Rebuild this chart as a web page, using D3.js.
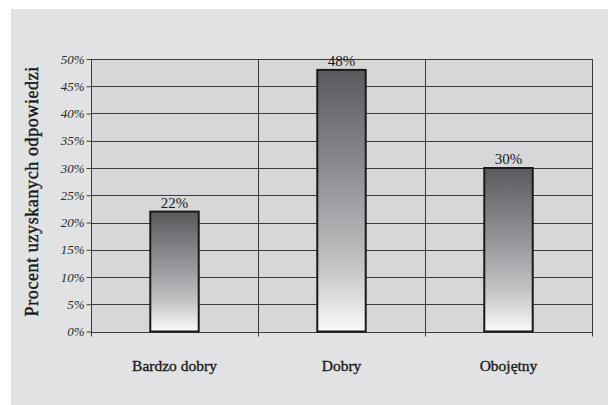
<!DOCTYPE html>
<html>
<head>
<meta charset="utf-8">
<script src="https://cdn.jsdelivr.net/npm/d3@7"></script>
<style>
  html, body { margin: 0; padding: 0; background: #ffffff; }
  svg { display: block; }
</style>
</head>
<body>
<svg id="chart" width="608" height="405"></svg>
<script>
// Survey answers: share of responses per rating
const categories = ["Bardzo dobry", "Dobry", "Obojętny"];
const values = [22, 48, 30];
const valueLabels = ["22%", "48%", "30%"];
const yTicks = [0, 5, 10, 15, 20, 25, 30, 35, 40, 45, 50];
const yTitle = "Procent uzyskanych odpowiedzi";

const svg = d3.select("#chart");
const W = 608, H = 405;
const plot = { left: 91, right: 592, top: 59, bottom: 331.5 };
const serif = "'Liberation Serif', 'DejaVu Serif', serif";

// outer panel
svg.append("rect")
  .attr("x", 11).attr("y", 9)
  .attr("width", W - 11).attr("height", H - 9)
  .attr("fill", "#e1e2e4");

// plot background
svg.append("rect")
  .attr("x", plot.left).attr("y", plot.top)
  .attr("width", plot.right - plot.left).attr("height", plot.bottom - plot.top)
  .attr("fill", "#d6d7d9");

const x = d3.scaleBand().domain(categories).range([plot.left, plot.right]).padding(0);
const y = d3.scaleLinear().domain([0, 50]).range([plot.bottom, plot.top]);

const gridColor = "#3a3a3a";

// horizontal grid lines
svg.append("g").selectAll("line").data(yTicks).join("line")
  .attr("x1", plot.left).attr("x2", plot.right)
  .attr("y1", d => Math.round(y(d)) + 0.5).attr("y2", d => Math.round(y(d)) + 0.5)
  .attr("stroke", gridColor).attr("stroke-width", 1);

// vertical category separators (extend below axis as ticks)
const seps = categories.slice(1).map(c => x(c)).concat([plot.right]);
svg.append("g").selectAll("line").data(seps).join("line")
  .attr("x1", d => Math.round(d) + 0.5).attr("x2", d => Math.round(d) + 0.5)
  .attr("y1", plot.top).attr("y2", plot.bottom + 5)
  .attr("stroke", gridColor).attr("stroke-width", 1);

// y axis
const yAxis = d3.axisLeft(y).tickValues(yTicks).tickSize(5).tickPadding(2)
  .tickFormat(d => d + "%");
const gy = svg.append("g").attr("transform", `translate(${plot.left + 0.5},0)`).call(yAxis);
gy.select(".domain").attr("stroke", gridColor).attr("d", `M0,${plot.top}V${plot.bottom + 5}`);
gy.selectAll(".tick line").attr("stroke", gridColor);
gy.selectAll(".tick text")
  .attr("font-family", serif)
  .attr("font-style", "italic")
  .attr("font-size", 13)
  .attr("fill", "#2a2a2a");

// bar gradient
const defs = svg.append("defs");
const grad = defs.append("linearGradient")
  .attr("id", "barGrad").attr("x1", 0).attr("y1", 0).attr("x2", 0).attr("y2", 1);
grad.append("stop").attr("offset", "0%").attr("stop-color", "#595a5e");
grad.append("stop").attr("offset", "40%").attr("stop-color", "#8e9094");
grad.append("stop").attr("offset", "75%").attr("stop-color", "#c3c4c6");
grad.append("stop").attr("offset", "100%").attr("stop-color", "#fafafa");

const barW = x.bandwidth() * 0.29;
svg.append("g").selectAll("rect").data(values).join("rect")
  .attr("x", (d, i) => x(categories[i]) + (x.bandwidth() - barW) / 2)
  .attr("y", d => y(d))
  .attr("width", barW)
  .attr("height", d => y(0) - y(d))
  .attr("fill", "url(#barGrad)")
  .attr("stroke", "#1a1a1a")
  .attr("stroke-width", 2);

// value labels
svg.append("g").selectAll("text").data(values).join("text")
  .attr("x", (d, i) => x(categories[i]) + x.bandwidth() / 2)
  .attr("y", d => y(d) - 4)
  .attr("text-anchor", "middle")
  .attr("font-family", serif)
  .attr("font-size", 15)
  .attr("fill", "#1a1a1a")
  .text((d, i) => valueLabels[i]);

// category labels
svg.append("g").selectAll("text").data(categories).join("text")
  .attr("x", d => x(d) + x.bandwidth() / 2)
  .attr("y", 371)
  .attr("text-anchor", "middle")
  .attr("font-family", serif)
  .attr("font-size", 15.5)
  .attr("fill", "#1a1a1a")
  .attr("stroke", "#1a1a1a")
  .attr("stroke-width", 0.35)
  .text(d => d);

// y axis title
svg.append("text")
  .attr("transform", `translate(38,${(plot.top + plot.bottom) / 2 - 4}) rotate(-90)`)
  .attr("text-anchor", "middle")
  .attr("font-family", serif)
  .attr("font-size", 18)
  .attr("letter-spacing", 0.6)
  .attr("fill", "#1a1a1a")
  .attr("stroke", "#1a1a1a")
  .attr("stroke-width", 0.4)
  .text(yTitle);
</script>
</body>
</html>
